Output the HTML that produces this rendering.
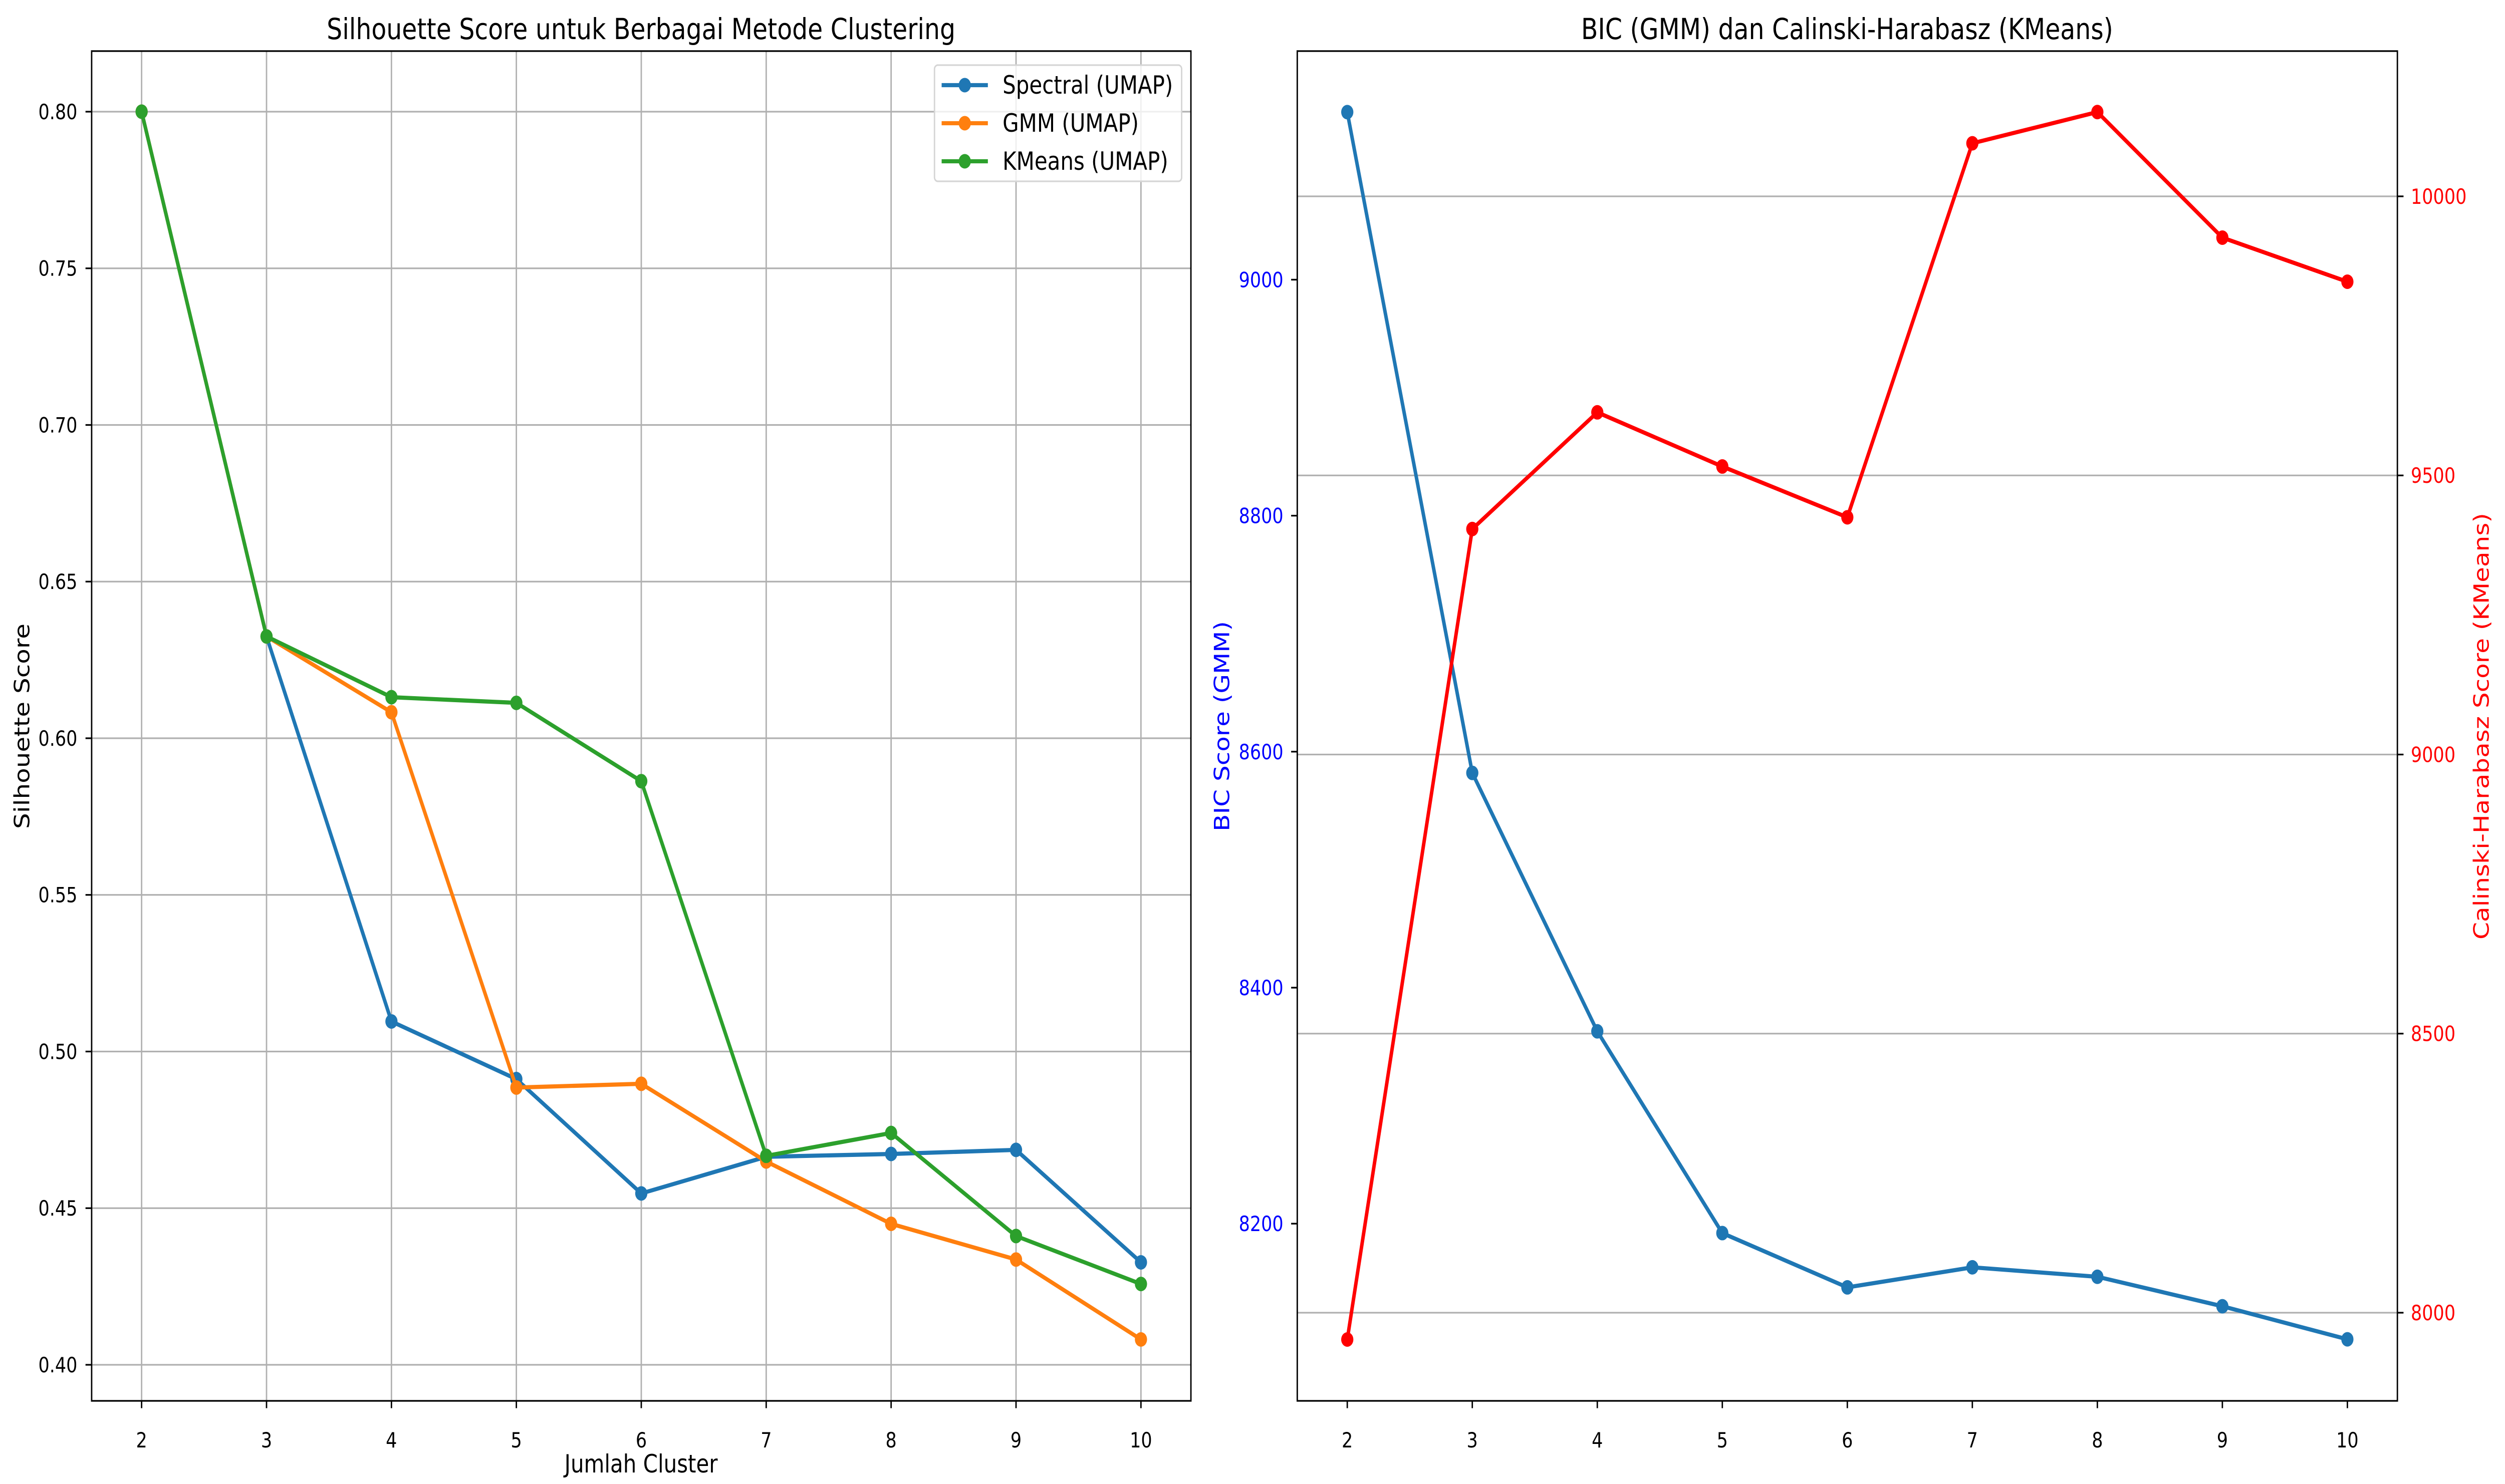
<!DOCTYPE html>
<html><head><meta charset="utf-8"><style>
html,body{margin:0;padding:0;background:#fff;overflow:hidden;width:100%;height:100%;}
svg{display:block;width:100vw;height:100vh;font-family:"DejaVu Sans","Liberation Sans",sans-serif;}
</style></head><body>
<svg id="fig" viewBox="0 0 5959 2963" preserveAspectRatio="none" xmlns="http://www.w3.org/2000/svg">
<rect width="5959" height="2963" fill="#fff"/>
<g id="left"></g>
<g id="right"></g>
</svg>
<script>
const clusters = [2,3,4,5,6,7,8,9,10];
const spectral = [0.800,0.6325,0.5096,0.4912,0.4547,0.4664,0.4673,0.4686,0.4327];
const gmm = [0.800,0.6325,0.6083,0.4885,0.4897,0.4649,0.4450,0.4336,0.4081];
const kmeans = [0.800,0.6325,0.6131,0.6113,0.5863,0.4667,0.4740,0.4411,0.4258];
const silTicks = [0.40,0.45,0.50,0.55,0.60,0.65,0.70,0.75,0.80];
const bic = [9142,8582,8363,8192,8146,8163,8155,8130,8102];
const ch = [7952,9404,9613,9516,9425,10095,10151,9926,9847];
const bicTicks = [8200,8400,8600,8800,9000];
const chTicks = [8000,8500,9000,9500,10000];

const NS="http://www.w3.org/2000/svg";
function mk(parent,tag,attrs,text){const e=document.createElementNS(NS,tag);for(const k in attrs)e.setAttribute(k,attrs[k]);if(text!==undefined)e.textContent=text;parent.appendChild(e);return e;}

// ---------- Left chart ----------
const L=document.getElementById('left');
const LX0=218,LX1=2833,LY0=102,LY1=2797;
const lx=v=>LX0+(v-1.6)*(LX1-LX0)/8.8;
const ly=v=>223+(0.8-v)*6255;
clusters.forEach(c=>{const g=mk(L,'line',{x1:lx(c),x2:lx(c),y1:LY0,y2:LY1,stroke:'#b0b0b0','stroke-width':3.3});

});
silTicks.forEach(t=>{const g=mk(L,'line',{x1:LX0,x2:LX1,y1:ly(t),y2:ly(t),stroke:'#b0b0b0','stroke-width':3.3});

});
clusters.forEach(c=>{mk(L,'line',{x1:lx(c),x2:lx(c),y1:LY1,y2:LY1+14.6,stroke:'#000','stroke-width':3.3});
const t=mk(L,'text',{x:lx(c),y:2890,'font-size':41.7,'text-anchor':'middle',fill:'#000'},String(c));

});
silTicks.forEach(v=>{mk(L,'line',{x1:LX0-14.6,x2:LX0,y1:ly(v),y2:ly(v),stroke:'#000','stroke-width':3.3});
const t=mk(L,'text',{x:184,y:ly(v)+15,'font-size':41.7,'text-anchor':'end',fill:'#000'},v.toFixed(2));

});
function series(parent,xs,ys,xf,yf,color,name){
  const g=mk(parent,'g',{});
  
  
  mk(g,'polyline',{points:xs.map((x,i)=>xf(x)+','+yf(ys[i])).join(' '),fill:'none',stroke:color,'stroke-width':8.3,'stroke-linejoin':'round','stroke-linecap':'square'});
  xs.forEach((x,i)=>{const c=mk(g,'circle',{cx:xf(x),cy:yf(ys[i]),r:14.5,fill:color});
  
  });
}
series(L,clusters,spectral,lx,ly,'#1f77b4','spectral-series');
series(L,clusters,gmm,lx,ly,'#ff7f0e','gmm-series');
series(L,clusters,kmeans,lx,ly,'#2ca02c','kmeans-series');
mk(L,'rect',{x:LX0,y:LY0,width:LX1-LX0,height:LY1-LY0,fill:'none',stroke:'#000','stroke-width':3.3});
const lg=mk(L,'g',{});


mk(lg,'rect',{x:2223,y:130,width:588,height:232,rx:8,fill:'#fff','fill-opacity':0.8,stroke:'#d5d5d5','stroke-width':3.3});
[['Spectral (UMAP)','#1f77b4',170],['GMM (UMAP)','#ff7f0e',246],['KMeans (UMAP)','#2ca02c',322]].forEach(([n,c,y])=>{
  const e=mk(lg,'g',{});
  
  
  mk(e,'line',{x1:2240,x2:2350,y1:y,y2:y,stroke:c,'stroke-width':8.3});
  mk(e,'circle',{cx:2295,cy:y,r:14.5,fill:c});
  mk(e,'text',{x:2385,y:y+17,'font-size':50,fill:'#000'},n);
});
const t1=mk(L,'text',{x:1525,y:78,'font-size':58.3,'text-anchor':'middle',fill:'#000'},'Silhouette Score untuk Berbagai Metode Clustering');


const xl=mk(L,'text',{x:1525,y:2940,'font-size':50,'text-anchor':'middle',fill:'#000'},'Jumlah Cluster');


const yl=mk(L,'text',{x:0,y:0,'font-size':50,'text-anchor':'middle',fill:'#000',transform:'translate(70,1450) rotate(-90)'},'Silhouette Score');



// ---------- Right chart ----------
const R=document.getElementById('right');
const RX0=3086,RX1=5703,RY0=102,RY1=2797;
const rx=v=>RX0+(v-1.6)*(RX1-RX0)/8.8;
const by=v=>558.4+(9000-v)*2.356;
const cy=v=>392+(10000-v)*1.1145;
chTicks.forEach(t=>{const g=mk(R,'line',{x1:RX0,x2:RX1,y1:cy(t),y2:cy(t),stroke:'#b0b0b0','stroke-width':3.3});

});
clusters.forEach(c=>{mk(R,'line',{x1:rx(c),x2:rx(c),y1:RY1,y2:RY1+14.6,stroke:'#000','stroke-width':3.3});
const t=mk(R,'text',{x:rx(c),y:2890,'font-size':41.7,'text-anchor':'middle',fill:'#000'},String(c));

});
bicTicks.forEach(v=>{mk(R,'line',{x1:RX0-14.6,x2:RX0,y1:by(v),y2:by(v),stroke:'#000','stroke-width':3.3});
const t=mk(R,'text',{x:RX0-33,y:by(v)+15,'font-size':41.7,'text-anchor':'end',fill:'#0000ff'},String(v));

});
chTicks.forEach(v=>{mk(R,'line',{x1:RX1,x2:RX1+14.6,y1:cy(v),y2:cy(v),stroke:'#000','stroke-width':3.3});
const t=mk(R,'text',{x:5735,y:cy(v)+15,'font-size':41.7,'text-anchor':'start',fill:'#ff0000'},String(v));

});
series(R,clusters,bic,rx,by,'#1f77b4','bic-series');
series(R,clusters,ch,rx,cy,'#ff0000','calinski-series');
mk(R,'rect',{x:RX0,y:RY0,width:RX1-RX0,height:RY1-RY0,fill:'none',stroke:'#000','stroke-width':3.3});
const t2=mk(R,'text',{x:4394,y:78,'font-size':58.3,'text-anchor':'middle',fill:'#000'},'BIC (GMM) dan Calinski-Harabasz (KMeans)');


const bl=mk(R,'text',{x:0,y:0,'font-size':50,'text-anchor':'middle',fill:'#0000ff',transform:'translate(2924,1450) rotate(-90)'},'BIC Score (GMM)');


const cl=mk(R,'text',{x:0,y:0,'font-size':50,'text-anchor':'middle',fill:'#ff0000',transform:'translate(5920,1450) rotate(-90)'},'Calinski-Harabasz Score (KMeans)');


</script>
</body></html>
